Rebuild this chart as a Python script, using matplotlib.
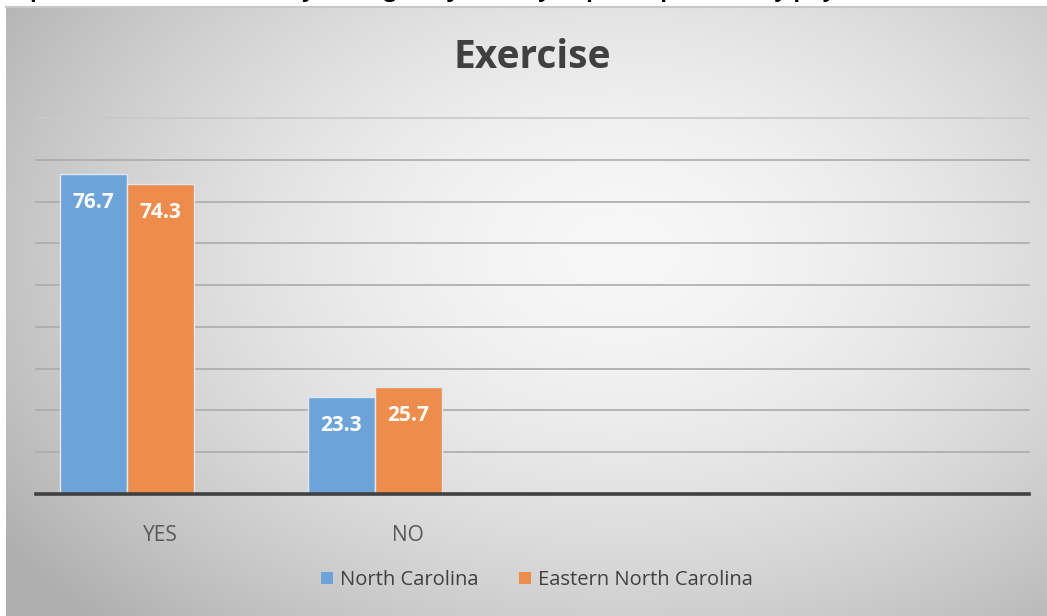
import numpy as np
import matplotlib
matplotlib.use("Agg")
import matplotlib.pyplot as plt

# ---- data ----
categories = ["YES", "NO"]
series_names = ["North Carolina", "Eastern North Carolina"]
nc_values = [76.7, 23.3]
enc_values = [74.3, 25.7]
colors = ["#6CA4D9", "#EE8C4C"]
title = "Exercise"
top_text = "past month, other than your regular job, did you participate in any physical activities or exercises"

W, H = 1047, 616
plt.rcParams["font.family"] = ["Open Sans", "DejaVu Sans"]
fig = plt.figure(figsize=(W / 100, H / 100), dpi=100)
fig.patch.set_facecolor("white")

# ---- background radial gradient (chart area) ----
x0, y0 = 6, 7  # chart area left / top in pixels
bg = fig.add_axes([x0 / W, 0, 1 - x0 / W, (H - y0) / H], zorder=0)
yy, xx = np.mgrid[y0:H, x0:W]
cx, cy = 620, 250
d = np.sqrt(((xx - cx) / 640.0) ** 2 + ((yy - cy) / 440.0) ** 2)
val = 247 - 55 * np.clip(d, 0, 1.25) ** 1.7
val = np.clip(val, 175, 250) / 255.0
img = np.dstack([val, val, val])
bg.imshow(img, aspect="auto", extent=[0, 1, 0, 1], interpolation="bilinear")
bg.set_axis_off()
bg.plot([0, 1], [1, 1], color="#c8c8c8", lw=1.5, transform=bg.transAxes, clip_on=False)

# cut-off question text at top (only descenders visible, as in the reference)
t = fig.text(30 / W, 1 + 4 / H, top_text, ha="left", va="baseline", fontsize=16,
             fontweight="bold", color="black")
# scale font so that "... in any " spans to x~791 px
probe = fig.text(0, 0, "past month, other than your regular job, did you participate in any ",
                 fontsize=16, fontweight="bold")
r = fig.canvas.get_renderer()
pw = probe.get_window_extent(r).width
probe.remove()
t.set_fontsize(16 * (791 - 30) / pw)

# ---- main axes ----
ax_l, ax_r = 36, 1029
ax_t, ax_b = 118, 494
ax = fig.add_axes([ax_l / W, (H - ax_b) / H, (ax_r - ax_l) / W, (ax_b - ax_t) / H], zorder=2)
ax.patch.set_alpha(0)

x = np.arange(len(categories))
bw = 0.27
for i, (vals, c, name) in enumerate(zip([nc_values, enc_values], colors, series_names)):
    bars = ax.bar(x + (i - 1) * bw, vals, width=bw, color=c, edgecolor="#dfe8f0",
                  linewidth=1.0, label=name, zorder=3)
    for b, v in zip(bars, vals):
        ax.annotate(f"{v}", (b.get_x() + b.get_width() / 2, v), xytext=(0, -29),
                    textcoords="offset pixels",
                    ha="center", va="center", color="white", fontsize=15,
                    fontweight="bold", zorder=4)

ax.set_xlim(-0.5, 3.5)
ax.set_ylim(0, 90)
for gy in range(10, 91, 10):
    ax.axhline(gy, color="#c9c9c9" if gy == 90 else "#ababab", lw=1.2, zorder=1,
               clip_on=False)
ax.axhline(0, color="#404040", lw=2.6, zorder=5, clip_on=False)

for s in ax.spines.values():
    s.set_visible(False)
ax.set_yticks([])
ax.set_xticks(x)
ax.set_xticklabels(categories, fontsize=15, color="#595959")
ax.tick_params(axis="x", length=0, pad=22)

fig.text(532 / W, 1 - 58 / H, title, ha="center", va="center", fontsize=28,
         fontweight="bold", color="#404040")

leg = fig.legend(loc="center", bbox_to_anchor=(537 / W, 1 - 580 / H), ncol=2,
                 frameon=False, fontsize=14.5, handlelength=0.6, handleheight=0.6,
                 handletextpad=0.35, columnspacing=2.0, labelcolor="#404040")
for h in leg.legend_handles:
    h.set_edgecolor("none")

fig.savefig("out.png", dpi=100, facecolor="white")
